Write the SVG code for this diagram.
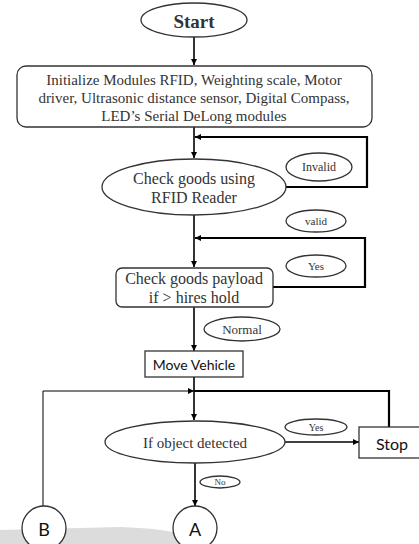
<svg xmlns="http://www.w3.org/2000/svg" width="419" height="544" viewBox="0 0 419 544">
<defs>
<marker id="ah" viewBox="0 0 10 10" refX="10" refY="5" markerWidth="6" markerHeight="6" markerUnits="userSpaceOnUse" orient="auto"><path d="M0,0 L10,5 L0,10 Z" fill="#000"/></marker>
<style>
.s{fill:#fff;stroke:#333;stroke-width:1.3}
.t{font-family:"Liberation Serif",serif;fill:#333;text-anchor:middle;dominant-baseline:central}
.c{font-family:Lato,"Open Sans",sans-serif;fill:#111;text-anchor:middle;dominant-baseline:central}
.l{fill:none;stroke:#000;stroke-width:1.6}
.lt{fill:none;stroke:#000;stroke-width:2.2}
</style>
</defs>
<rect width="419" height="544" fill="#fff"/>
<path d="M0,530 L120,527 Q185,529 207,544 L0,544 Z" fill="#dcdcdc"/>
<g id="connectors">
<line class="l" x1="194" y1="37" x2="194" y2="65" marker-end="url(#ah)"/>
<line class="l" x1="194" y1="127" x2="194" y2="158" marker-end="url(#ah)"/>
<polyline class="lt" points="286,187 367,187 367,137 195,137" marker-end="url(#ah)"/>
<line class="l" x1="194" y1="215" x2="194" y2="267" marker-end="url(#ah)"/>
<polyline class="lt" points="273,287 365,287 365,238 195,238" marker-end="url(#ah)"/>
<line class="l" x1="194" y1="307" x2="194" y2="351" marker-end="url(#ah)"/>
<line class="l" x1="194" y1="377" x2="194" y2="420" marker-end="url(#ah)"/>
<polyline fill="none" stroke="#000" stroke-width="1" points="43,506 43,391 194,391" marker-end="url(#ah)"/>
<polyline class="lt" points="389,427 389,391 194,391"/>
<line class="l" x1="285" y1="442" x2="359" y2="442" marker-end="url(#ah)"/>
<line class="l" x1="195" y1="463" x2="195" y2="506" marker-end="url(#ah)"/>
</g>
<g id="start"><ellipse class="s" cx="194" cy="20" rx="53" ry="17"/><text class="t" x="194" y="21" font-size="19" font-weight="bold" fill="#000">Start</text></g>
<g id="init"><rect class="s" x="17" y="66" width="355" height="61" rx="9"/>
<text class="t" x="194" y="80" font-size="15">Initialize Modules RFID, Weighting scale, Motor</text>
<text class="t" x="194" y="98" font-size="15">driver, Ultrasonic distance sensor, Digital Compass,</text>
<text class="t" x="194" y="116" font-size="15">LED’s Serial DeLong modules</text></g>
<g id="invalid"><ellipse class="s" cx="319" cy="167" rx="33" ry="14"/><text class="t" x="319" y="167" font-size="12">Invalid</text></g>
<g id="rfid"><ellipse class="s" cx="194" cy="187" rx="92" ry="28"/>
<text class="t" x="194" y="178" font-size="16">Check goods using</text>
<text class="t" x="194" y="197" font-size="16">RFID Reader</text></g>
<g id="valid"><ellipse class="s" cx="316" cy="221" rx="30" ry="11"/><text class="t" x="316" y="221" font-size="11">valid</text></g>
<g id="yes1"><ellipse class="s" cx="316" cy="266" rx="30" ry="11"/><text class="t" x="316" y="266" font-size="11">Yes</text></g>
<g id="payload"><rect class="s" x="116" y="268" width="157" height="39" rx="6"/>
<text class="t" x="194" y="278" font-size="16">Check goods payload</text>
<text class="t" x="194" y="297" font-size="16">if &gt; hires hold</text></g>
<g id="normal"><ellipse class="s" cx="242" cy="329" rx="38" ry="12"/><text class="t" x="242" y="329" font-size="13">Normal</text></g>
<g id="move"><rect class="s" x="145" y="351" width="98" height="26"/><text class="c" x="194" y="364" font-size="14">Move Vehicle</text></g>
<g id="detect"><ellipse class="s" cx="195" cy="442" rx="90" ry="21"/><text class="t" x="195" y="443" font-size="15">If object detected</text></g>
<g id="yes2"><ellipse class="s" cx="316" cy="427" rx="31" ry="8"/><text class="t" x="316" y="427" font-size="10">Yes</text></g>
<g id="stop"><rect class="s" x="359" y="427" width="64" height="31"/><text class="c" x="392" y="443" font-size="16">Stop</text></g>
<g id="no"><ellipse class="s" cx="220" cy="482" rx="20" ry="6"/><text class="t" x="220" y="482" font-size="9">No</text></g>
<g id="A"><circle class="s" cx="195" cy="528" r="22"/><text class="c" x="195" y="529" font-size="18">A</text></g>
<g id="B"><circle class="s" cx="44" cy="528" r="22"/><text class="c" x="44" y="529" font-size="18">B</text></g>
</svg>
